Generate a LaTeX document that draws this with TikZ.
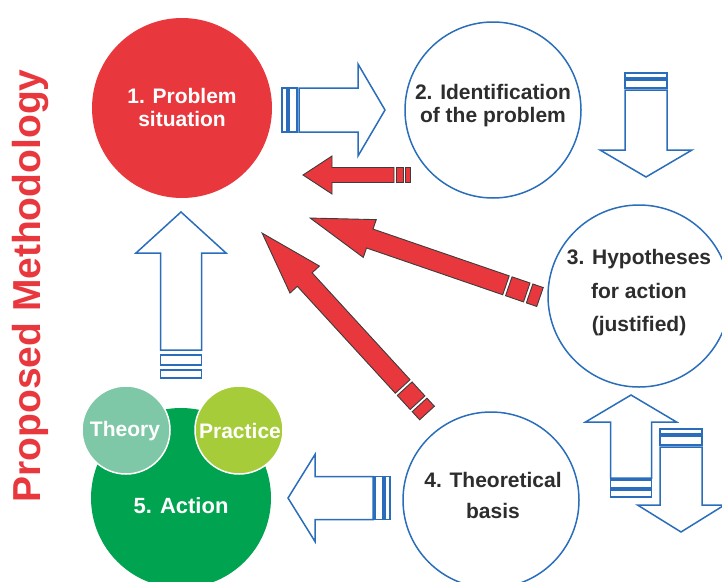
\documentclass[tikz,border=0pt]{standalone}
\usepackage{fontspec}
\setmainfont{Liberation Sans}
\definecolor{pred}{RGB}{233,56,61}
\definecolor{pblue}{RGB}{42,110,187}
\definecolor{pgreen}{RGB}{0,164,80}
\definecolor{ptheory}{RGB}{126,200,168}
\definecolor{ppractice}{RGB}{166,204,58}
\definecolor{ptext}{RGB}{45,45,45}
\definecolor{pedge}{RGB}{60,60,60}
% striped block arrow: tail at origin, pointing along +x
% #1 style, #2 length, #3 shaft half width, #4 head length, #5 head half width,
% #6 tail bar, #7 second bar, #8 gap
\newcommand{\stripedarrow}[8]{%
  \draw[#1] (0,-#3) rectangle (#6,#3);
  \draw[#1] ({#6+#8},-#3) rectangle ({#6+#8+#7},#3);
  \draw[#1] ({#6+#7+2*#8},-#3) -- ({#2-#4},-#3) -- ({#2-#4},-#5) -- (#2,0)
     -- ({#2-#4},#5) -- ({#2-#4},#3) -- ({#6+#7+2*#8},#3) -- cycle;
}
\begin{document}
\begin{tikzpicture}[x=1pt,y=-1pt,
  outline/.style={draw=pblue,line width=1.5pt,fill=white,line join=miter},
  redarrow/.style={draw=pedge,line width=0.9pt,fill=pred,line join=miter},
  bluecircle/.style={circle,draw=pblue,line width=1.5pt,fill=white,inner sep=0pt},
  filledcircle/.style={circle,inner sep=0pt},
  lbl/.style={font=\bfseries\fontsize{21}{23}\selectfont,align=center,inner sep=0pt,text=ptext}]
\useasboundingbox (0,0) rectangle (722,581);
\clip (0,0) rectangle (722,581);

% circles
\node[filledcircle,fill=pred,minimum size=180pt] (c1) at (182,108) {};
\node[bluecircle,minimum size=176pt] (c2) at (493,110) {};
\node[bluecircle,minimum size=182pt] (c3) at (639,296) {};
\node[bluecircle,minimum size=176pt] (c4) at (491,500) {};
\node[filledcircle,fill=pgreen,minimum size=180pt] (c5) at (181,498) {};
\node[filledcircle,fill=ptheory,draw=white,line width=1.5pt,minimum size=88pt] (th) at (126,430) {};
\node[filledcircle,fill=ppractice,draw=white,line width=1.5pt,minimum size=88pt] (pr) at (239,430) {};

% labels
\node[lbl,text=white] (t1) at (182,107) {1. Problem\\situation};
\node[lbl] (t2) at (493,106) {2. Identification\\of the problem};
\node[lbl,font=\bfseries\fontsize{21}{33.5}\selectfont] (t3) at (639,293) {3. Hypotheses\\for action\\(justified)};
\node[lbl,font=\bfseries\fontsize{21}{31}\selectfont] (t4) at (493,495) {4. Theoretical\\basis};
\node[lbl,text=white] (tth) at (125,431) {Theory};
\node[lbl,text=white] (tpr) at (240,431) {Practice};
\node[lbl,text=white,font=\bfseries\fontsize{22}{24}\selectfont] (t5) at (181,506) {5. Action};
\node[rotate=90,anchor=base,text=pred,inner sep=0pt,
      font=\bfseries\fontsize{39}{39}\selectfont] (title) at (40,286) {Proposed Methodology};

% blue block arrows
\begin{scope}[shift={(282,110)}]
  \stripedarrow{outline}{103}{22}{27}{46}{5}{8}{2}
\end{scope}
\begin{scope}[shift={(646,73)},rotate=-90]
  \stripedarrow{outline}{104}{21}{27}{46}{5}{8}{2}
\end{scope}
\begin{scope}[shift={(631,497)},rotate=90]
  \stripedarrow{outline}{102}{20.5}{27}{45.5}{7}{8}{2}
\end{scope}
\begin{scope}[shift={(681,429)},rotate=-90]
  \stripedarrow{outline}{103}{21}{27}{43.5}{5}{9}{2}
\end{scope}
\begin{scope}[shift={(390,498)},rotate=180]
  \stripedarrow{outline}{102}{21.5}{27}{43.5}{5}{8}{2}
\end{scope}
\begin{scope}[shift={(181,378)},rotate=90]
  \stripedarrow{outline}{166}{20.5}{41}{45}{8}{10}{5}
\end{scope}

% red block arrows
\begin{scope}[shift={(410,175)},rotate=180]
  \stripedarrow{redarrow}{107}{7.5}{29}{19}{5}{7}{2}
\end{scope}
\begin{scope}[shift={(540,297)},rotate=161.04]
  \stripedarrow{redarrow}{243}{10}{63}{20}{11}{19}{3}
\end{scope}
\begin{scope}[shift={(427,413)},rotate=132.5]
  \stripedarrow{redarrow}{244}{10}{63}{20}{11}{19}{3}
\end{scope}
\end{tikzpicture}
\end{document}
